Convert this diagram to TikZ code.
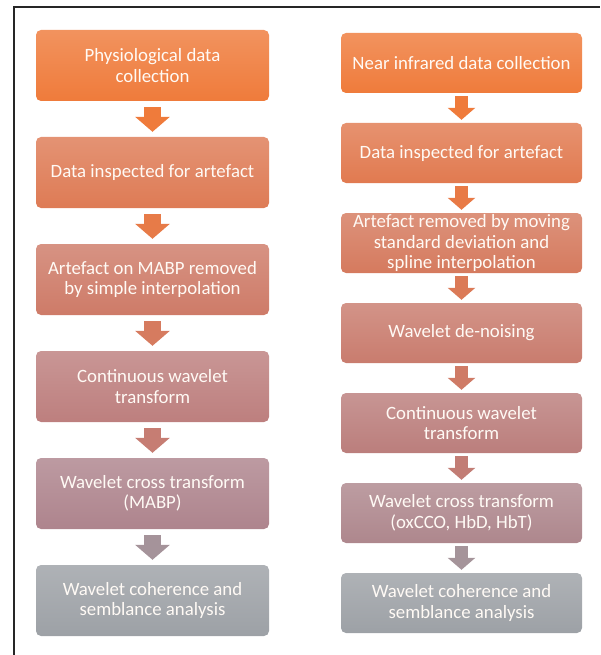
\documentclass[tikz,border=0pt]{standalone}
\usepackage{fontspec}
\setmainfont{Carlito}
\usepackage{tikz}
\usetikzlibrary{arrows.meta, positioning}

\definecolor{stepA}{HTML}{EF7B3B}
\definecolor{stepB}{HTML}{DE7B55}
\definecolor{stepC}{HTML}{CE7B68}
\definecolor{stepD}{HTML}{BD7F7E}
\definecolor{stepE}{HTML}{AE848D}
\definecolor{stepF}{HTML}{9DA1A6}
\definecolor{nirB}{HTML}{E17A50}
\definecolor{nirC}{HTML}{D57A5E}
\definecolor{nirD}{HTML}{C97C6E}
\definecolor{nirE}{HTML}{BB7E7C}
\definecolor{nirF}{HTML}{AE878D}

\begin{document}
\begin{tikzpicture}[x=1pt, y=-1pt, tint/.style={top color=#1!82!white, bottom color=#1}]
% Styles
\tikzstyle{leftbox} = [rectangle, rounded corners=5pt, minimum width=233pt, minimum height=71pt, text=white!96!orange, align=center, font=\fontsize{18.8}{20.5}\selectfont, inner sep=1pt]
\tikzstyle{rightbox} = [leftbox, minimum width=241pt, minimum height=60pt]
\tikzstyle{bigarrow} = [line width=17pt, -{Triangle[width=34pt, length=15pt]}, shorten <=6pt, shorten >=5pt]
\tikzstyle{smallarrow} = [line width=13pt, -{Triangle[width=27pt, length=12pt]}, shorten <=3pt, shorten >=3pt]

\useasboundingbox (0,0) rectangle (600,655);
\draw [line width=2.5pt, black!85] (14,655) -- (14,7) -- (600,7);

% physiological side
\begin{scope}[node distance=107pt]
\node (phys_collect) [leftbox, tint=stepA] at (152.5,65.5) {Physiological data \\ collection};
\node (phys_inspect) [leftbox, tint=stepB, below of=phys_collect] {Data inspected for artefact};
\node (phys_interp) [leftbox, tint=stepC, below of=phys_inspect] {Artefact on MABP removed \\ by simple interpolation};
\node (phys_cwt) [leftbox, tint=stepD, below of=phys_interp] {Continuous wavelet \\ transform};
\node (phys_xwt) [leftbox, tint=stepE, below of=phys_cwt] {Wavelet cross transform \\ (MABP)};
\node (phys_wtc) [leftbox, tint=stepF, below of=phys_xwt] {Wavelet coherence and \\ semblance analysis};
\end{scope}

\draw [bigarrow, stepA] (phys_collect) -- (phys_inspect);
\draw [bigarrow, stepA!50!stepB] (phys_inspect) -- (phys_interp);
\draw [bigarrow, stepB!50!stepC] (phys_interp) -- (phys_cwt);
\draw [bigarrow, stepC!50!stepD] (phys_cwt) -- (phys_xwt);
\draw [bigarrow, stepE!50!stepF] (phys_xwt) -- (phys_wtc);

% near infrared side
\begin{scope}[node distance=90pt]
\node (nir_collect) [rightbox, tint=stepA] at (461.5,63) {Near infrared data collection};
\node (nir_inspect) [rightbox, tint=nirB, below of=nir_collect] {Data inspected for artefact};
\node (nir_spline) [rightbox, tint=nirC, below of=nir_inspect] {Artefact removed by moving \\ standard deviation and \\ spline interpolation};
\node (nir_denoise) [rightbox, tint=nirD, below of=nir_spline] {Wavelet de-noising};
\node (nir_cwt) [rightbox, tint=nirE, below of=nir_denoise] {Continuous wavelet \\ transform};
\node (nir_xwt) [rightbox, tint=nirF, below of=nir_cwt] {Wavelet cross transform \\ (oxCCO, HbD, HbT)};
\node (nir_wtc) [rightbox, tint=stepF, below of=nir_xwt] {Wavelet coherence and \\ semblance analysis};
\end{scope}

\draw [smallarrow, stepA] (nir_collect) -- (nir_inspect);
\draw [smallarrow, stepA!50!nirB] (nir_inspect) -- (nir_spline);
\draw [smallarrow, nirB!50!nirC] (nir_spline) -- (nir_denoise);
\draw [smallarrow, nirC!50!nirD] (nir_denoise) -- (nir_cwt);
\draw [smallarrow, nirD!50!nirE] (nir_cwt) -- (nir_xwt);
\draw [smallarrow, nirF!50!stepF] (nir_xwt) -- (nir_wtc);

\end{tikzpicture}
\end{document}
